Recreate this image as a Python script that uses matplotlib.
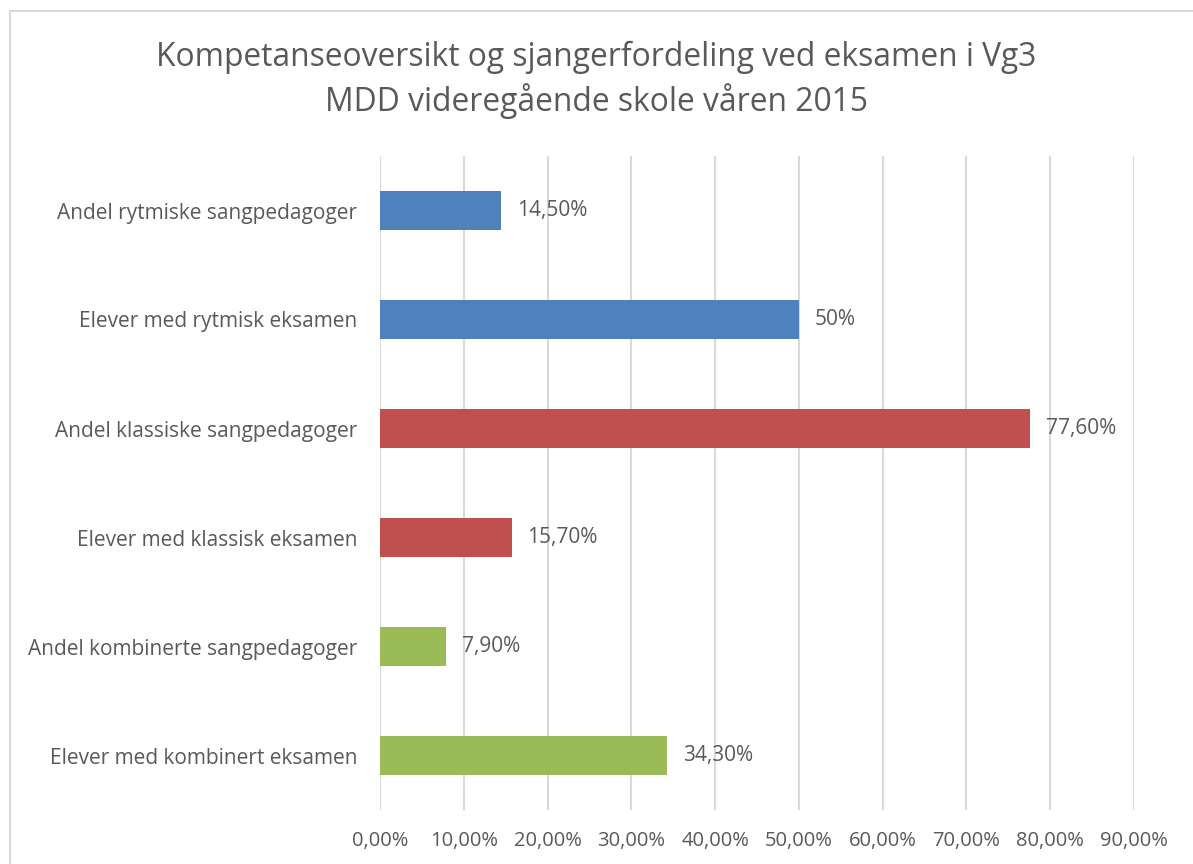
import matplotlib.pyplot as plt
import matplotlib.patches as mpatches
import numpy as np

# ======= DATA ======= #
categories = ['Andel rytmiske sangpedagoger',
              'Elever med rytmisk eksamen',
              'Andel klassiske sangpedagoger',
              'Elever med klassisk eksamen',
              'Andel kombinerte sangpedagoger',
              'Elever med kombinert eksamen']
values = [0.145, 0.50, 0.776, 0.157, 0.079, 0.343]
value_labels = ['14,50%', '50%', '77,60%', '15,70%', '7,90%', '34,30%']
bar_colors = ['#4F81BD', '#4F81BD', '#C0504D', '#C0504D', '#9BBB59', '#9BBB59']
x_ticks = np.arange(0, 1.0, 0.1)
x_tick_labels = ['0,00%', '10,00%', '20,00%', '30,00%', '40,00%',
                 '50,00%', '60,00%', '70,00%', '80,00%', '90,00%']

plt.rcParams['font.family'] = ['Open Sans', 'DejaVu Sans']
txt = '#595959'

fig = plt.figure(figsize=(11.93, 8.64), dpi=100)
fig.patch.set_facecolor('white')

# chart border (right/bottom edge lie outside the picture)
fig.patches.append(mpatches.Rectangle((10/1193, -0.1), 1.2, 1 - 11/864 + 0.1,
                                      transform=fig.transFigure, fill=False,
                                      edgecolor='#D9D9D9', linewidth=1.5))

ax = fig.add_axes([380/1193, 1 - 810/864, (1134 - 380)/1193, (810 - 156)/864])
y = np.arange(len(categories))
ax.barh(y, values, height=0.35, color=bar_colors, zorder=3)
ax.set_ylim(len(categories) - 0.5, -0.5)
ax.set_xlim(0, 0.9)
ax.set_yticks(y)
ax.set_yticklabels(categories, fontsize=15, color=txt)
ax.set_xticks(x_ticks)
ax.set_xticklabels(x_tick_labels, fontsize=14.5, color=txt)
ax.tick_params(length=0)
ax.tick_params(axis='y', pad=16.5)
ax.tick_params(axis='x', pad=15)
ax.grid(axis='x', color='#D9D9D9', linewidth=1.5, zorder=0)
for s in ax.spines.values():
    s.set_visible(False)

for yi, v, lab in zip(y, values, value_labels):
    ax.annotate(lab, (v, yi), xytext=(16, 0), textcoords='offset pixels',
                va='center', ha='left', fontsize=15, color=txt)

fig.text(0.5, 1 - 57/864, 'Kompetanseoversikt og sjangerfordeling ved eksamen i Vg3',
         ha='center', va='center', fontsize=22.9, color=txt)
fig.text(0.5, 1 - 101/864, 'MDD videregående skole våren 2015',
         ha='center', va='center', fontsize=22.9, color=txt)

fig.savefig('out.png', dpi=100)
